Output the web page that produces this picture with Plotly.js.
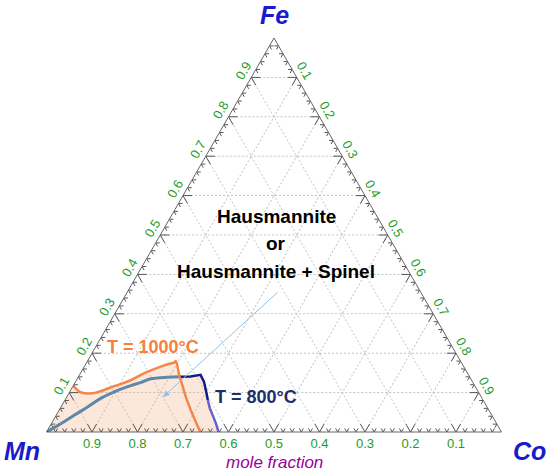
<!DOCTYPE html>
<html>
<head>
<meta charset="utf-8">
<script src="https://cdn.plot.ly/plotly-3.0.1.min.js"></script>
<style>html,body{margin:0;padding:0;background:#fff;}#chart{width:550px;height:476px;}</style>
</head>
<body>
<div id="chart"></div>
<script>
// Axis labels / ticks
const tickVals = [0.1, 0.2, 0.3, 0.4, 0.5, 0.6, 0.7, 0.8, 0.9];
const tickText = ["0.1", "0.2", "0.3", "0.4", "0.5", "0.6", "0.7", "0.8", "0.9"];

// T = 1000°C boundary (orange)
const orangeFe = [0.117, 0.102, 0.098, 0.100, 0.107, 0.115, 0.122, 0.132, 0.145, 0.153, 0.166, 0.172, 0.176, 0.180, 0.166, 0.145, 0.119, 0.090, 0.056, 0.026, 0.000];
const orangeMn = [0.883, 0.876, 0.860, 0.841, 0.819, 0.797, 0.775, 0.748, 0.720, 0.701, 0.666, 0.648, 0.632, 0.626, 0.629, 0.636, 0.642, 0.649, 0.655, 0.659, 0.662];
const orangeCo = [0.000, 0.022, 0.042, 0.059, 0.074, 0.088, 0.103, 0.120, 0.135, 0.146, 0.168, 0.180, 0.192, 0.194, 0.205, 0.219, 0.239, 0.261, 0.289, 0.315, 0.338];

// steel-blue boundary
const grayFe = [0.000, 0.022, 0.043, 0.064, 0.086, 0.102, 0.115, 0.126, 0.135, 0.139, 0.140];
const grayMn = [1.000, 0.956, 0.917, 0.877, 0.837, 0.800, 0.764, 0.729, 0.703, 0.665, 0.635];
const grayCo = [0.000, 0.022, 0.040, 0.059, 0.077, 0.098, 0.121, 0.145, 0.162, 0.196, 0.225];

// T = 800°C boundary (navy, upper part)
const navyFe = [0.140, 0.141, 0.145, 0.128, 0.102, 0.081];
const navyMn = [0.635, 0.613, 0.589, 0.590, 0.598, 0.605];
const navyCo = [0.225, 0.246, 0.266, 0.282, 0.300, 0.314];
// T = 800°C boundary (lower part)
const violetFe = [0.081, 0.060, 0.039, 0.018, 0.000];
const violetMn = [0.605, 0.611, 0.614, 0.6175, 0.622];
const violetCo = [0.314, 0.329, 0.347, 0.3645, 0.378];

// shaded region: Mn corner + orange (up to crossing) + 800°C boundary
const fillFe = [0].concat(orangeFe.slice(0, 16), navyFe.slice(1), violetFe.slice(1), [0]);
const fillMn = [1].concat(orangeMn.slice(0, 16), navyMn.slice(1), violetMn.slice(1), [1]);
const fillCo = [0].concat(orangeCo.slice(0, 16), navyCo.slice(1), violetCo.slice(1), [0]);

// tick marks (V shapes along the grid directions)
function tickMarks() {
  const a = [], b = [], c = [];
  function seg(p, q) { a.push(p[0], q[0], null); b.push(p[1], q[1], null); c.push(p[2], q[2], null); }
  for (let i = 1; i < 50; i++) {
    const t = i / 50;
    const major = (i % 5 === 0);
    const d = major ? 0.02 : 0.009;
    seg([0, t, 1 - t], [d, t, 1 - t - d]);
    seg([0, t, 1 - t], [d, t - d, 1 - t]);
    seg([t, 1 - t, 0], [t, 1 - t - d, d]);
    seg([t, 1 - t, 0], [t - d, 1 - t, d]);
    seg([t, 0, 1 - t], [t, d, 1 - t - d]);
    seg([t, 0, 1 - t], [t - d, d, 1 - t]);
  }
  return {a, b, c};
}
const tm = tickMarks();

const traces = [
  {type: 'scatterternary', mode: 'lines', a: fillFe, b: fillMn, c: fillCo, fill: 'toself',
   fillcolor: 'rgba(244,170,125,0.28)', line: {width: 0, color: 'rgba(0,0,0,0)'}, hoverinfo: 'skip'},
  {type: 'scatterternary', mode: 'lines', a: tm.a, b: tm.b, c: tm.c,
   line: {color: '#555555', width: 1}, hoverinfo: 'skip', connectgaps: false},
  {type: 'scatterternary', mode: 'lines', a: grayFe, b: grayMn, c: grayCo,
   line: {color: '#5f87a8', width: 3, shape: 'spline'}},
  {type: 'scatterternary', mode: 'lines', a: orangeFe, b: orangeMn, c: orangeCo,
   line: {color: '#f5864a', width: 2.5, shape: 'spline', smoothing: 0.6}},
  {type: 'scatterternary', mode: 'lines', a: navyFe, b: navyMn, c: navyCo,
   line: {color: '#0f1d8c', width: 2.5}},
  {type: 'scatterternary', mode: 'lines', a: violetFe, b: violetMn, c: violetCo,
   line: {color: '#6a5fcf', width: 2.5}},
  {type: 'scatterternary', mode: 'markers', a: [grayFe[0]], b: [grayMn[0]], c: [grayCo[0]],
   marker: {color: '#1a3a9c', size: 4}, hoverinfo: 'skip'}
];

const font = 'Liberation Sans, Arial, sans-serif';
const axisCommon = {
  showline: true, linecolor: '#666666', linewidth: 1,
  showgrid: true, gridcolor: '#c4c4c4', griddash: '2px,2px', gridwidth: 1,
  ticks: '', tickmode: 'array', tickvals: tickVals, ticktext: tickText,
  tickfont: {family: font, size: 13, color: '#1e9c2a'},
  title: {text: ''},
  min: 0
};

function ann(text, x, y, f) {
  return {text: text, xref: 'paper', yref: 'paper', x: x, y: y, showarrow: false,
          xanchor: 'center', yanchor: 'middle', font: f};
}
const titleFont = {family: font, size: 25, color: '#1a1acc', weight: 'bold', style: 'italic'};
const mainFont = {family: font, size: 19, color: '#000000', weight: 'bold'};
const layout = {
  width: 550, height: 476,
  margin: {l: 45, r: 47, t: 38, b: 44},
  paper_bgcolor: '#ffffff',
  showlegend: false,
  ternary: {
    sum: 1,
    bgcolor: '#ffffff',
    domain: {x: [0, 1], y: [0, 1]},
    aaxis: Object.assign({}, axisCommon, {tickangle: -60}),
    baxis: Object.assign({}, axisCommon, {tickangle: 0}),
    caxis: Object.assign({}, axisCommon, {tickangle: 60})
  },
  annotations: [
    ann('Fe', 0.5, 1.058, titleFont),
    ann('Mn', -0.050, -0.048, titleFont),
    ann('Co', 1.057, -0.048, titleFont),
    ann('mole fraction', 0.502, -0.078, {family: font, size: 17, color: '#990099', style: 'italic'}),
    ann('Hausmannite', 0.505, 0.548, mainFont),
    ann('or', 0.505, 0.478, mainFont),
    ann('Hausmannite + Spinel', 0.505, 0.408, mainFont),
    ann('T = 1000°C', 0.236, 0.216, {family: font, size: 18, color: '#f4823c', weight: 'bold'}),
    ann('T = 800°C', 0.461, 0.089, {family: font, size: 18, color: '#1f2d6b', weight: 'bold'}),
    {text: '', xref: 'paper', yref: 'paper', x: 0.2576, y: 0.0888, showarrow: true,
     ax: 116, ay: -106, arrowcolor: '#8fc3ea', arrowwidth: 1, arrowhead: 2, arrowsize: 1.3}
  ]
};

Plotly.newPlot('chart', traces, layout, {displayModeBar: false, staticPlot: true});
</script>
</body>
</html>
